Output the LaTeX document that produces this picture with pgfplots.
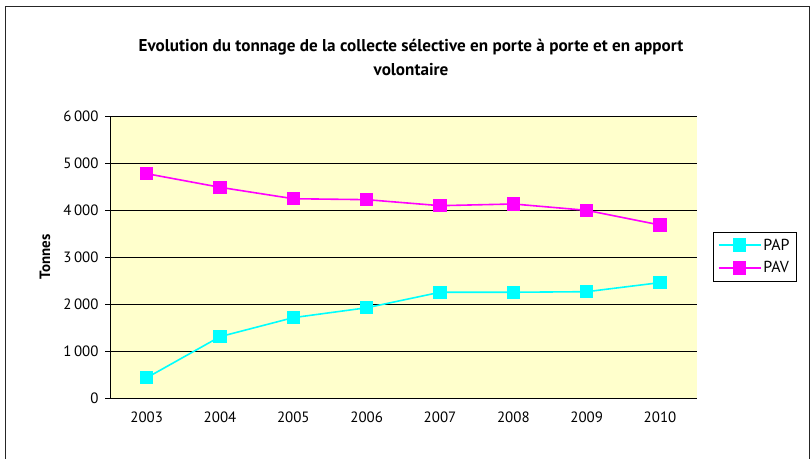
\documentclass[border=0pt]{standalone}
\usepackage{pgfplots}
\pgfplotsset{compat=1.18}
\usepackage{fontspec}
\setmainfont{PT Sans}
\definecolor{bgy}{HTML}{FFFFCC}
\definecolor{cpap}{HTML}{00FFFF}
\definecolor{cpav}{HTML}{FF00FF}
\begin{document}
\begin{tikzpicture}[x=1bp,y=1bp]
\useasboundingbox (0,0) rectangle (811,-459);
\draw[line width=1.2bp, black!85] (5.5,-470) -- (5.5,-6.5) -- (809.5,-6.5) -- (809.5,-470);
\node[font=\bfseries\fontsize{17.2}{23.5}\selectfont, align=center] at (411,-57.5) {Evolution du tonnage de la collecte sélective en porte à porte et en apport\\volontaire};
\begin{axis}[
  at={(110bp,-398bp)}, anchor=south west,
  width=586.7bp, height=282bp, scale only axis,
  xmin=0, xmax=8, ymin=0, ymax=6000,
  axis lines*=left,
  axis line style={-, black, line width=0.9bp},
  axis background/.style={fill=bgy},
  xtick={0.5,1.5,...,7.5},
  xticklabels={2003,2004,2005,2006,2007,2008,2009,2010},
  xtick style={draw=none},
  extra x ticks={0,1,...,8},
  extra x tick labels={},
  extra x tick style={grid=none, tick style={draw=black, line width=0.7bp}, major tick length=5bp, tick align=outside},
  ytick={0,1000,...,6000},
  ymajorgrids,
  grid style={black, line width=0.8bp},
  tick align=outside,
  major tick length=5bp,
  ytick style={black, line width=0.7bp},
  /pgf/number format/assume math mode=true,
  /pgf/number format/1000 sep={\,},
  yticklabel style={font=\fontsize{15}{17}\selectfont, xshift=-3bp},
  xticklabel style={font=\fontsize{15}{17}\selectfont, yshift=-5bp},
  ylabel={Tonnes},
  every axis y label/.style={at={(rel axis cs:-0.111,0.5)}, rotate=90, anchor=center, font=\bfseries\fontsize{15}{17}\selectfont},
  legend style={at={(rel axis cs:1.028,0.5887)}, anchor=north west, draw=black, fill=white, font=\fontsize{16}{18}\selectfont, row sep=6bp, inner sep=4.5bp},
  legend image code/.code={\draw[#1, mark repeat=2, mark phase=2] plot coordinates {(0bp,0bp) (21bp,0bp) (42bp,0bp)};},
  legend cell align=left,
  clip=false,
]
\addplot[cpap, line width=1.6bp, mark=square*, mark size=5.8bp, mark options={draw=none, fill=cpap}] coordinates {
(0.5,430) (1.5,1305) (2.5,1710) (3.5,1920) (4.5,2250) (5.5,2250) (6.5,2262) (7.5,2455)};
\addlegendentry{PAP}
\addplot[cpav, line width=1.6bp, mark=square*, mark size=5.8bp, mark options={draw=none, fill=cpav}] coordinates {
(0.5,4773) (1.5,4483) (2.5,4240) (3.5,4220) (4.5,4092) (5.5,4128) (6.5,3993) (7.5,3681)};
\addlegendentry{PAV}
\end{axis}
\end{tikzpicture}
\end{document}
